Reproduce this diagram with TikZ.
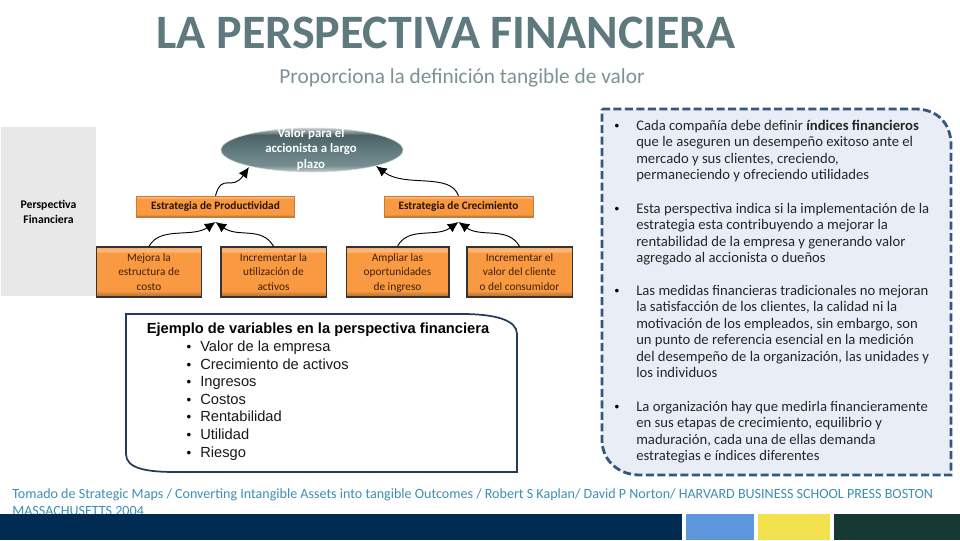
\documentclass[tikz,border=0pt]{standalone}
\usepackage{fontspec}
\setmainfont{Carlito}
\newfontfamily\arialfont{Liberation Sans}
\usetikzlibrary{arrows.meta,shapes.geometric}
\definecolor{boxorange}{HTML}{F99A43}
\definecolor{slatetitle}{HTML}{5F7A7E}
\definecolor{slatesub}{HTML}{7C9295}
\definecolor{panelblue}{HTML}{E9EEF6}
\definecolor{paneledge}{HTML}{34567F}
\definecolor{sourceblue}{HTML}{3F8FB3}
\definecolor{bandnavy}{HTML}{002C54}
\definecolor{bandblue}{HTML}{5F97DE}
\definecolor{bandyellow}{HTML}{F2E04C}
\definecolor{bandgreen}{HTML}{163A33}
\pgfdeclareverticalshading{orangebevel}{100bp}{color(0bp)=(boxorange!70!black); color(25bp)=(boxorange!70!black); color(29bp)=(boxorange!88!black); color(31bp)=(boxorange); color(69bp)=(boxorange); color(71bp)=(boxorange!70!white); color(75bp)=(boxorange!80!white); color(100bp)=(boxorange!80!white)}
\pgfdeclareverticalshading{slatebevel}{100bp}{color(0bp)=(white!65!slatetitle); color(25bp)=(white!65!slatetitle); color(32bp)=(slatetitle!85!white); color(50bp)=(slatetitle); color(67bp)=(slatetitle!80!black); color(75bp)=(white!65!slatetitle); color(100bp)=(white!65!slatetitle)}
\begin{document}
\begin{tikzpicture}[x=0.75pt, y=-0.75pt]
    \tikzset{
      leafbox/.style={draw=black!80, line width=1pt, rectangle, shading=orangebevel, minimum width=79pt, minimum height=37.5pt, inner sep=0pt, align=center, text=black!75!orange, font=\fontsize{8.5}{10.9}\selectfont},
      strategybox/.style={draw=boxorange!80!black, line width=0.4pt, rectangle, shading=orangebevel, minimum height=15.75pt, inner sep=0pt, text=black!85!orange, font=\fontsize{8.5}{10.9}\selectfont\bfseries},
      curvearrow/.style={-{Latex[length=8pt, width=7.5pt]}, line width=0.7pt},
      panelnote/.style={anchor=north west, inner sep=0pt, align=left, text=black!85, font=\fontsize{11}{12.3}\selectfont},
      panelbullet/.style={inner sep=0pt, text height=7pt, text depth=2pt, font=\arialfont\fontsize{10}{12.3}\selectfont},
      varitem/.style={anchor=west, inner sep=0pt, text height=8pt, text depth=2.5pt, text=black!90, font=\arialfont\fontsize{11}{13}\selectfont},
      varbullet/.style={inner sep=0pt, text height=8pt, text depth=2.5pt, font=\arialfont\fontsize{10}{13}\selectfont}
    }
    \useasboundingbox (0,0) rectangle (960,540);
    \fill[white] (0,0) rectangle (960,540);

    \node[text=slatetitle, font=\fontsize{36}{40}\selectfont\bfseries] (title) at (446,33) {LA PERSPECTIVA FINANCIERA};
    \node[text=slatesub, font=\fontsize{16}{18}\selectfont] (subtitle) at (462,78) {Proporciona la definición tangible de valor};

    \node[fill=black!9, rectangle, minimum width=71.25pt, minimum height=126.75pt, inner sep=0pt] (perspectiva) at (48.5,211.5) {};
    \node[align=center, inner sep=0pt, font=\fontsize{8.8}{11.2}\selectfont\bfseries] (perspectivalabel) at (48.5,212) {Perspectiva\\Financiera};

    \node[ellipse, draw=white!70!slatetitle, line width=0.4pt, shading=slatebevel, minimum width=136.5pt, minimum height=33pt, inner sep=0pt] (valor) at (312,150) {};
    \node[text=white, align=center, inner sep=0pt, font=\fontsize{9.6}{11.6}\selectfont\bfseries] (valorlabel) at (311,149.5) {Valor para el\\accionista  a largo\\plazo};
    \coordinate (valorleft) at (249,167);
    \coordinate (valorright) at (376,166);

    \node[strategybox, minimum width=118.5pt] (productividad) at (215.5,206.5) {Estrategia de Productividad};
    \node[strategybox, minimum width=111.75pt] (crecimiento) at (458.5,206.5) {Estrategia de Crecimiento};

    \node[leafbox] (mejora) at (149,272) {Mejora la\\estructura de\\costo};
    \node[leafbox] (utilizacion) at (273.5,272) {Incrementar la\\utilización de\\activos};
    \node[leafbox, minimum width=77pt] (ampliar) at (397.5,272) {Ampliar las\\oportunidades\\\smash{de ingreso}};
    \node[leafbox] (cliente) at (519.5,272) {Incrementar el\\valor del cliente\\o del consumidor};

    \coordinate (productividadtip) at (215.5,222);
    \coordinate (crecimientotip) at (458.5,222);

    \draw[curvearrow] (productividad.north) .. controls (222,172) and (232,192) .. (valorleft);
    \draw[curvearrow] (crecimiento.north) .. controls (450,172) and (405,188) .. (valorright);
    \draw[curvearrow] (mejora.north) .. controls (160,226) and (192,238) .. (productividadtip);
    \draw[curvearrow] (utilizacion.north) .. controls (262,226) and (238,238) .. (productividadtip);
    \draw[curvearrow] (ampliar.north) .. controls (408,226) and (436,238) .. (crecimientotip);
    \draw[curvearrow] (cliente.north) .. controls (508,226) and (481,238) .. (crecimientotip);

    \draw[draw=paneledge!70!black, line width=1.3pt, fill=white] (126,314) -- (462,314) .. controls (495,314) and (517,320) .. (517,334) -- (517,472) -- (175,472) .. controls (145,472) and (126,468) .. (126,454) -- cycle;
    \node[inner sep=0pt, text=black, font=\arialfont\fontsize{11}{13}\selectfont\bfseries] (varhead) at (318,329.5) {Ejemplo de variables en la perspectiva financiera};
    \foreach \y/\name/\txt in {347.5/empresa/Valor de la empresa, 365.5/activos/Crecimiento de activos, 382.5/ingresos/Ingresos, 400.5/costos/Costos, 417.5/rentabilidad/Rentabilidad, 435.5/utilidad/Utilidad, 453.5/riesgo/Riesgo}{
      \node[varbullet] (bullet\name) at (189,\y) {•};
      \node[varitem] (item\name) at (200,\y) {\txt};
    }

    \draw[draw=paneledge, line width=2.1pt, fill=panelblue, dash pattern=on 6pt off 2.6pt] (602,109) -- (915,109) .. controls (937,109) and (951,123) .. (951,145) -- (951,475) -- (640,475) .. controls (618,475) and (602,460) .. (602,440) -- cycle;
    \node[panelbullet] (bulletcada) at (617,127) {•};
    \node[panelnote] (notecada) at (636,120) {Cada compañía debe definir \textbf{índices financieros}\\que le aseguren un desempeño exitoso ante el\\mercado y sus clientes, creciendo,\\permaneciendo y ofreciendo utilidades};
    \node[panelbullet] (bulletesta) at (617,210) {•};
    \node[panelnote] (noteesta) at (636,203) {Esta perspectiva indica si la implementación de la\\estrategia esta contribuyendo a mejorar la\\rentabilidad de la empresa y generando valor\\agregado al accionista  o dueños};
    \node[panelbullet] (bulletmedidas) at (617,292) {•};
    \node[panelnote] (notemedidas) at (636,285) {Las medidas financieras tradicionales no mejoran\\la satisfacción de los clientes, la calidad ni la\\motivación de los empleados, sin embargo, son\\un punto de referencia esencial en la medición\\del desempeño de la organización, las unidades y\\los individuos};
    \node[panelbullet] (bulletmedir) at (617,408) {•};
    \node[panelnote] (notemedir) at (636,401) {La organización hay que medirla financieramente\\en sus etapas de crecimiento, equilibrio y\\maduración, cada una de ellas demanda\\estrategias e índices diferentes};

    \node[anchor=north west, inner sep=0pt, align=left, text=sourceblue, font=\fontsize{10.55}{12.8}\selectfont] (source) at (12,488.5) {Tomado de Strategic Maps / Converting Intangible Assets into tangible Outcomes / Robert S Kaplan/ David P Norton/ HARVARD BUSINESS SCHOOL PRESS BOSTON\\MASSACHUSETTS  2004};

    \fill[bandnavy] (0,514) rectangle (682,540);
    \fill[bandblue] (686,514) rectangle (754,540);
    \fill[bandyellow] (758,514) rectangle (830,540);
    \fill[bandgreen] (834,514) rectangle (960,540);
  \end{tikzpicture}
\end{document}
